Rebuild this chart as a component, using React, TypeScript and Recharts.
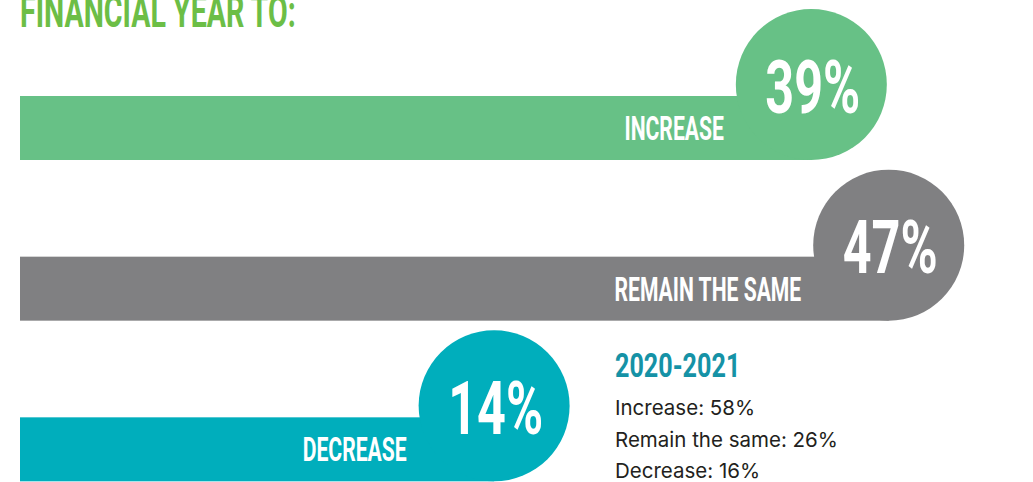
import React from 'react';
import { BarChart, Bar, XAxis, YAxis } from 'recharts';

const title = 'FINANCIAL YEAR TO:';
const categories = ['INCREASE', 'REMAIN THE SAME', 'DECREASE'];
const values = [39, 47, 14];
const colors = ['#67c186', '#808082', '#00aebc'];
const priorYearLabel = '2020-2021';
const priorYearLines = ['Increase: 58%', 'Remain the same: 26%', 'Decrease: 16%'];

const data = categories.map((name, i) => ({ name, value: values[i], color: colors[i] }));

const CONDENSED = 'Roboto, "Liberation Sans", sans-serif';
const R = 75.5;

const BarWithBubble = (props: any) => {
  const { x, y, width, height, index } = props;
  const entry = props.payload || data[index];
  const color = entry.color || colors[index];
  const cx = x + width;
  const cy = y + height - R;
  return (
    <g>
      <rect x={x} y={y} width={width} height={height} fill={color} />
      <circle cx={cx} cy={cy} r={R} fill={color} />
      <g transform={`translate(${cx + 1.5},${cy + 28}) scale(0.68,1)`}>
        <text x={0} y={0} textAnchor="middle" fill="#ffffff" fontFamily={CONDENSED} fontWeight={700} fontSize={74}>
          {`${entry.value}%`}
        </text>
      </g>
      <g transform={`translate(${cx - R - 12},${y + height - 20}) scale(0.64,1)`}>
        <text x={0} y={0} textAnchor="end" fill="#ffffff" fontFamily={CONDENSED} fontWeight={700} fontSize={33}>
          {entry.name}
        </text>
      </g>
    </g>
  );
};

export default function App() {
  return (
    <div style={{ position: 'fixed', left: 0, top: 0, width: 1033, height: 482, overflow: 'hidden', background: '#ffffff' }}>
      <BarChart
        width={1033}
        height={530}
        data={data}
        layout="vertical"
        margin={{ top: 48, right: 117, bottom: 0, left: 20 }}
      >
        <XAxis type="number" dataKey="value" domain={[0, 50]} scale="sqrt" hide />
        <YAxis type="category" dataKey="name" hide />
        <Bar dataKey="value" barSize={64} shape={BarWithBubble} isAnimationActive={false} />
      </BarChart>
      <svg width={1033} height={482} style={{ position: 'absolute', left: 0, top: 0, pointerEvents: 'none' }}>
        <g transform="translate(20,27) scale(0.65,1)">
          <text x={0} y={0} fill="#6cbe46" fontFamily={CONDENSED} fontWeight={700} fontSize={44}>
            {title}
          </text>
        </g>
        <g transform="translate(615,377) scale(0.74,1)">
          <text x={0} y={0} fill="#1592a6" fontFamily={CONDENSED} fontWeight={700} fontSize={34}>
            {priorYearLabel}
          </text>
        </g>
        {priorYearLines.map((line, i) => (
          <text key={line} x={615} y={415 + i * 31.5} fill="#231f20" fontFamily="Inter, 'Open Sans', sans-serif" fontSize={20.5}>
            {line}
          </text>
        ))}
      </svg>
    </div>
  );
}
